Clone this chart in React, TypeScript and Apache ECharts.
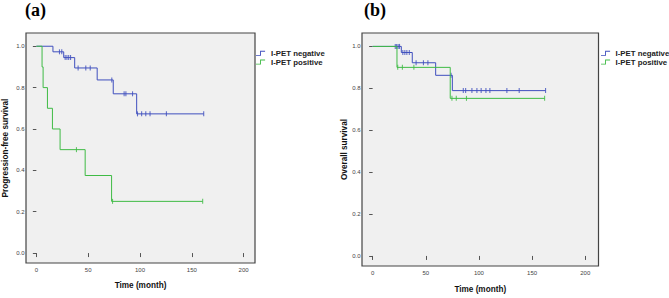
import React, { useEffect, useRef } from "react";
import * as echarts from "echarts";

// ---- axis ticks ----
const X_TICKS = [0, 50, 100, 150, 200];
const Y_TICKS = [0, 0.2, 0.4, 0.6, 0.8, 1];

// ---- series names ----
const NEG = "I-PET negative";
const POS = "I-PET positive";

// ---- (a) Progression-free survival ----
const pfsNegTimes = [16, 26.4, 37, 58.7, 74.2, 96.8];
const pfsNegSurv = [0.973, 0.945, 0.895, 0.837, 0.77, 0.673];
const pfsNegCensor = [22.3, 24.5, 27.8, 29.5, 31.2, 33, 40.3, 47.7, 52, 72.8, 84.7, 86.4, 92.8, 97.6, 101.6, 105.6, 109.7, 125.5, 161.5];

const pfsPosTimes = [5.5, 6.5, 10.7, 15.5, 22.9, 47.1, 72.6];
const pfsPosSurv = [0.9, 0.8, 0.7, 0.6, 0.5, 0.375, 0.25];
const pfsPosCensor = [38.7, 73.5, 160.5];

// ---- (b) Overall survival ----
const osNegTimes = [27, 37.3, 59.3, 75];
const osNegSurv = [0.971, 0.922, 0.862, 0.789];
const osNegCensor = [21.3, 22.6, 24, 25.3, 28.4, 30.3, 32.2, 34.5, 40.9, 47.8, 52, 73.8, 85.3, 87.5, 93.4, 98.1, 102.1, 106.6, 110.3, 126.3, 137.9, 162.7];

const osPosTimes = [22.9, 73];
const osPosSurv = [0.9, 0.752];
const osPosCensor = [23.6, 28, 38.8, 74.6, 78.7, 88.3, 161.8];

const BLUE = "#3f4fbe";
const GREEN = "#3fbb45";
const FONT = "Liberation Sans, Arial, sans-serif";

function kmLine(times: number[], surv: number[], censor: number[]) {
  const pts: number[][] = [[0, 1]];
  times.forEach((t, i) => pts.push([t, surv[i]]));
  const end = Math.max(...censor, ...times);
  pts.push([end, surv[surv.length - 1]]);
  return pts;
}
function survAt(times: number[], surv: number[], t: number) {
  let s = 1;
  for (let i = 0; i < times.length; i++) if (times[i] <= t) s = surv[i];
  return s;
}
function censorPts(times: number[], surv: number[], censor: number[]) {
  return censor.map((t) => [t, survAt(times, surv, t)]);
}

const STEP_ICON = "path://M0,9 L9,9 L9,0 L20,0 L20,2 L11,2 L11,11 L0,11 Z";

function makeXAxis(grid: number, max: number, gap: number) {
  return {
    type: "value",
    gridIndex: grid,
    min: -10,
    max,
    axisLine: { show: false },
    splitLine: { show: false },
    axisTick: { show: true, customValues: X_TICKS, length: 4, lineStyle: { color: "#555", width: 1 } },
    axisLabel: { customValues: X_TICKS, fontSize: 6, color: "#444", margin: 3.5, fontFamily: FONT },
    name: "Time (month)",
    nameLocation: "middle",
    nameGap: gap,
    nameTextStyle: { fontFamily: FONT, fontWeight: "bold", fontSize: 8.2, color: "#111" },
  };
}
function makeYAxis(grid: number, name: string, gap: number) {
  return {
    type: "value",
    gridIndex: grid,
    min: -0.048,
    max: 1.064,
    axisLine: { show: false },
    splitLine: { show: false },
    axisTick: { show: true, customValues: Y_TICKS, length: 3.5, lineStyle: { color: "#555", width: 1 } },
    axisLabel: { customValues: Y_TICKS, fontSize: 6, color: "#444", margin: 1.5, fontFamily: FONT, formatter: (v: number) => v.toFixed(1) },
    name,
    nameLocation: "middle",
    nameGap: gap,
    nameTextStyle: { fontFamily: FONT, fontWeight: "bold", fontSize: 8.2, color: "#111" },
  };
}
function lineSeries(name: string, color: string, grid: number, data: number[][]) {
  return {
    type: "line",
    name,
    xAxisIndex: grid,
    yAxisIndex: grid,
    step: "end",
    symbol: "none",
    showSymbol: false,
    lineStyle: { color, width: 1 },
    itemStyle: { color },
    data,
  };
}
function censorSeries(color: string, grid: number, data: number[][]) {
  return {
    type: "scatter",
    name: "censored",
    xAxisIndex: grid,
    yAxisIndex: grid,
    symbol: "rect",
    symbolSize: [1.1, 5],
    itemStyle: { color },
    silent: true,
    data,
  };
}
function makeLegend(left: number, itemWidth: number) {
  return {
    left,
    top: 49,
    orient: "vertical",
    padding: 0,
    itemGap: 0,
    itemWidth,
    itemHeight: 5,
    selectedMode: false,
    textStyle: { fontFamily: FONT, fontWeight: "bold", fontSize: 7.8, color: "#222", lineHeight: 8.7 },
    data: [
      { name: NEG, icon: STEP_ICON, itemStyle: { color: BLUE } },
      { name: POS, icon: STEP_ICON, itemStyle: { color: GREEN } },
    ],
  };
}

export default function App() {
  const ref = useRef<HTMLDivElement>(null);
  useEffect(() => {
    if (!ref.current) return;
    const chart = echarts.init(ref.current, null, { renderer: "svg" });
    const gridStyle = { show: true, backgroundColor: "#f0f0f0", borderColor: "#444", borderWidth: 1.2 };
    chart.setOption({
      animation: false,
      backgroundColor: "#ffffff",
      title: [
        { text: "(a)", left: 25, top: 1, padding: 0, textStyle: { fontFamily: "Liberation Serif, Times New Roman, serif", fontWeight: "bold", fontSize: 18, color: "#000" } },
        { text: "(b)", left: 364, top: 1, padding: 0, textStyle: { fontFamily: "Liberation Serif, Times New Roman, serif", fontWeight: "bold", fontSize: 18, color: "#000" } },
      ],
      grid: [
        { left: 26, top: 33, width: 229, height: 230, ...gridStyle },
        { left: 362, top: 33, width: 236.5, height: 237, ...gridStyle },
      ],
      xAxis: [makeXAxis(0, 211, 18), makeXAxis(1, 212.5, 19)],
      yAxis: [makeYAxis(0, "Progression-free survival", 17), makeYAxis(1, "Overall survival", 14)],
      legend: [makeLegend(256, 11), makeLegend(601, 10)],
      series: [
        lineSeries(NEG, BLUE, 0, kmLine(pfsNegTimes, pfsNegSurv, pfsNegCensor)),
        censorSeries(BLUE, 0, censorPts(pfsNegTimes, pfsNegSurv, pfsNegCensor)),
        lineSeries(POS, GREEN, 0, kmLine(pfsPosTimes, pfsPosSurv, pfsPosCensor)),
        censorSeries(GREEN, 0, censorPts(pfsPosTimes, pfsPosSurv, pfsPosCensor)),
        lineSeries(NEG, BLUE, 1, kmLine(osNegTimes, osNegSurv, osNegCensor)),
        censorSeries(BLUE, 1, censorPts(osNegTimes, osNegSurv, osNegCensor)),
        lineSeries(POS, GREEN, 1, kmLine(osPosTimes, osPosSurv, osPosCensor)),
        censorSeries(GREEN, 1, censorPts(osPosTimes, osPosSurv, osPosCensor)),
      ],
    });
    return () => chart.dispose();
  }, []);
  return <div ref={ref} style={{ position: "fixed", left: 0, top: 0, width: 669, height: 298 }} />;
}
